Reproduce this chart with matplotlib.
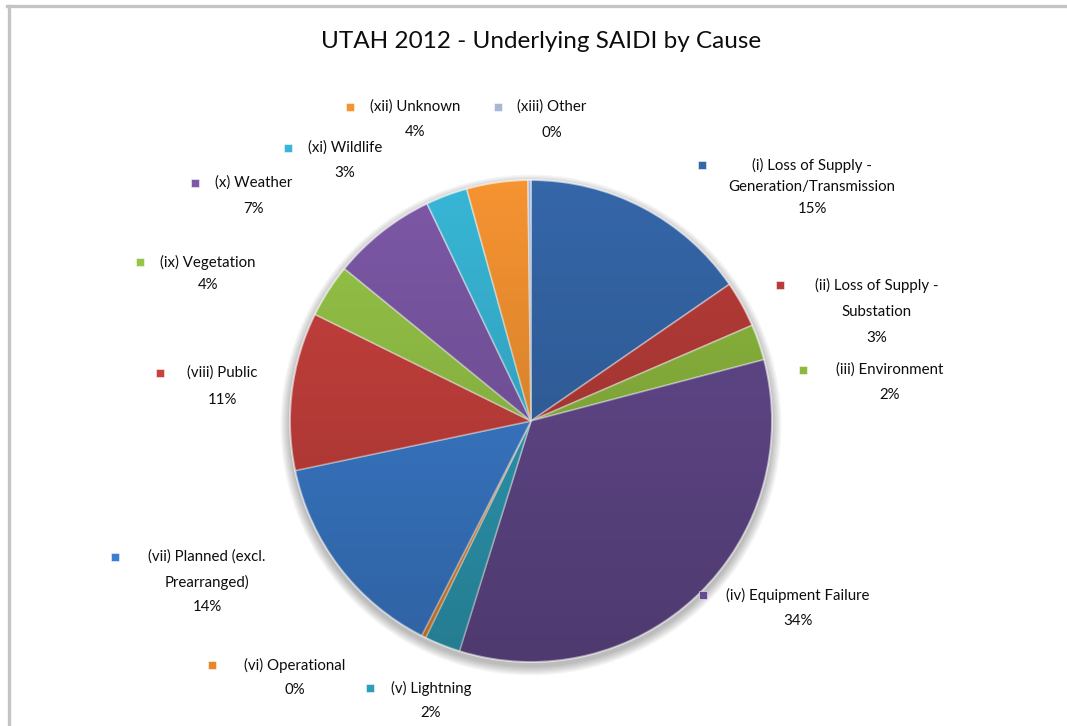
import numpy as np
import matplotlib.pyplot as plt
from matplotlib.patches import Circle
from matplotlib.lines import Line2D

plt.rcParams['font.family'] = ['Lato', 'DejaVu Sans']

causes = [
    "(i) Loss of Supply -\nGeneration/Transmission",
    "(ii) Loss of Supply -\nSubstation",
    "(iii) Environment",
    "(iv) Equipment Failure",
    "(v) Lightning",
    "(vi) Operational",
    "(vii) Planned (excl.\nPrearranged)",
    "(viii) Public",
    "(ix) Vegetation",
    "(x) Weather",
    "(xi) Wildlife",
    "(xii) Unknown",
    "(xiii) Other",
]
saidi_share = [15.4, 3.1, 2.4, 33.9, 2.4, 0.3, 14.2, 10.6, 3.6, 7.0, 2.8, 4.1, 0.2]
colors = ["#3566a8", "#b83c38", "#8db83e", "#644a8e", "#2f9fb9", "#e8862a",
          "#3c7ed0", "#c9413d", "#96c548", "#7c58a6", "#38b6d6", "#f59331", "#a6b8d4"]

# canvas in pixels, y measured from the top
W, H = 1067, 726
PIE_X, PIE_Y, PIE_R = 531, 421, 241

# (key square x, text centre x, first line y) for each label
label_pos = [
    (702, 812, 165),
    (780, 877, 285),
    (803, 890, 370),
    (703, 798, 595),
    (370, 431, 688),
    (212, 295, 665),
    (115, 207, 557),
    (160, 222, 373),
    (140, 208, 262),
    (195, 254, 183),
    (288, 345, 148),
    (350, 415, 107),
    (498, 552, 107),
]
line_gap = [22, 26.5, 25, 26, 25, 25, 25, 27, 23, 26, 25, 25, 26]


def py(y):
    return H - y


fig = plt.figure(figsize=(W / 100, H / 100), dpi=100)
ax = fig.add_axes([0, 0, 1, 1])

# soft drop shadow under the pie
for k in range(8):
    ax.add_patch(Circle((PIE_X, py(PIE_Y + 4)), PIE_R + 1 + k * 1.2,
                        color="#000000", alpha=0.035, lw=0, zorder=1))

wedges, _ = ax.pie(saidi_share, colors=colors, startangle=90, counterclock=False,
                   center=(PIE_X, py(PIE_Y)), radius=PIE_R, frame=True,
                   wedgeprops=dict(edgecolor=(1, 1, 1, 0.45), linewidth=1.2, zorder=2))

# light-to-dark shading over the pie
grad = np.linspace(0, 1, 256)[:, None] * np.ones((1, 256))
shade = np.zeros((256, 256, 4))
shade[..., 3] = 0.22 * grad
img = ax.imshow(shade, extent=(PIE_X - PIE_R, PIE_X + PIE_R, py(PIE_Y + PIE_R), py(PIE_Y - PIE_R)),
                origin="upper", zorder=3, interpolation="bilinear")
clip = Circle((PIE_X, py(PIE_Y)), PIE_R, transform=ax.transData)
img.set_clip_path(clip)
ax.add_patch(Circle((PIE_X, py(PIE_Y)), PIE_R, fill=False, ec=(1, 1, 1, 0.3), lw=1.5, zorder=4))

total = sum(saidi_share)
for name, val, col, (sx, cx, y), gap in zip(causes, saidi_share, colors, label_pos, line_gap):
    lines = name.split("\n") + ["%.0f%%" % (val / total * 100)]
    for i, ln in enumerate(lines):
        ax.text(cx, py(y + i * gap), ln, ha="center", va="center",
                fontsize=10.8, color="#0d0d0d", zorder=5)
    ax.plot(sx, py(y), marker="s", ms=5.8, color=col, mec=(1, 1, 1, 0.6), mew=0.6, zorder=5)

ax.text(541, py(42), "UTAH 2012 - Underlying SAIDI by Cause", ha="center", va="center",
        fontsize=17.5, color="#0d0d0d")

ax.set_xlim(0, W)
ax.set_ylim(0, H)
ax.set_aspect("auto")
ax.axis("off")

# chart area border (top and left edges visible)
fig.add_artist(Line2D([7 / W, 1], [py(6) / H, py(6) / H], color="#c4c4c4", lw=2.4))
fig.add_artist(Line2D([9 / W, 9 / W], [0, py(6) / H], color="#c4c4c4", lw=2.4))

fig.savefig("out.png", dpi=100, facecolor="white")
